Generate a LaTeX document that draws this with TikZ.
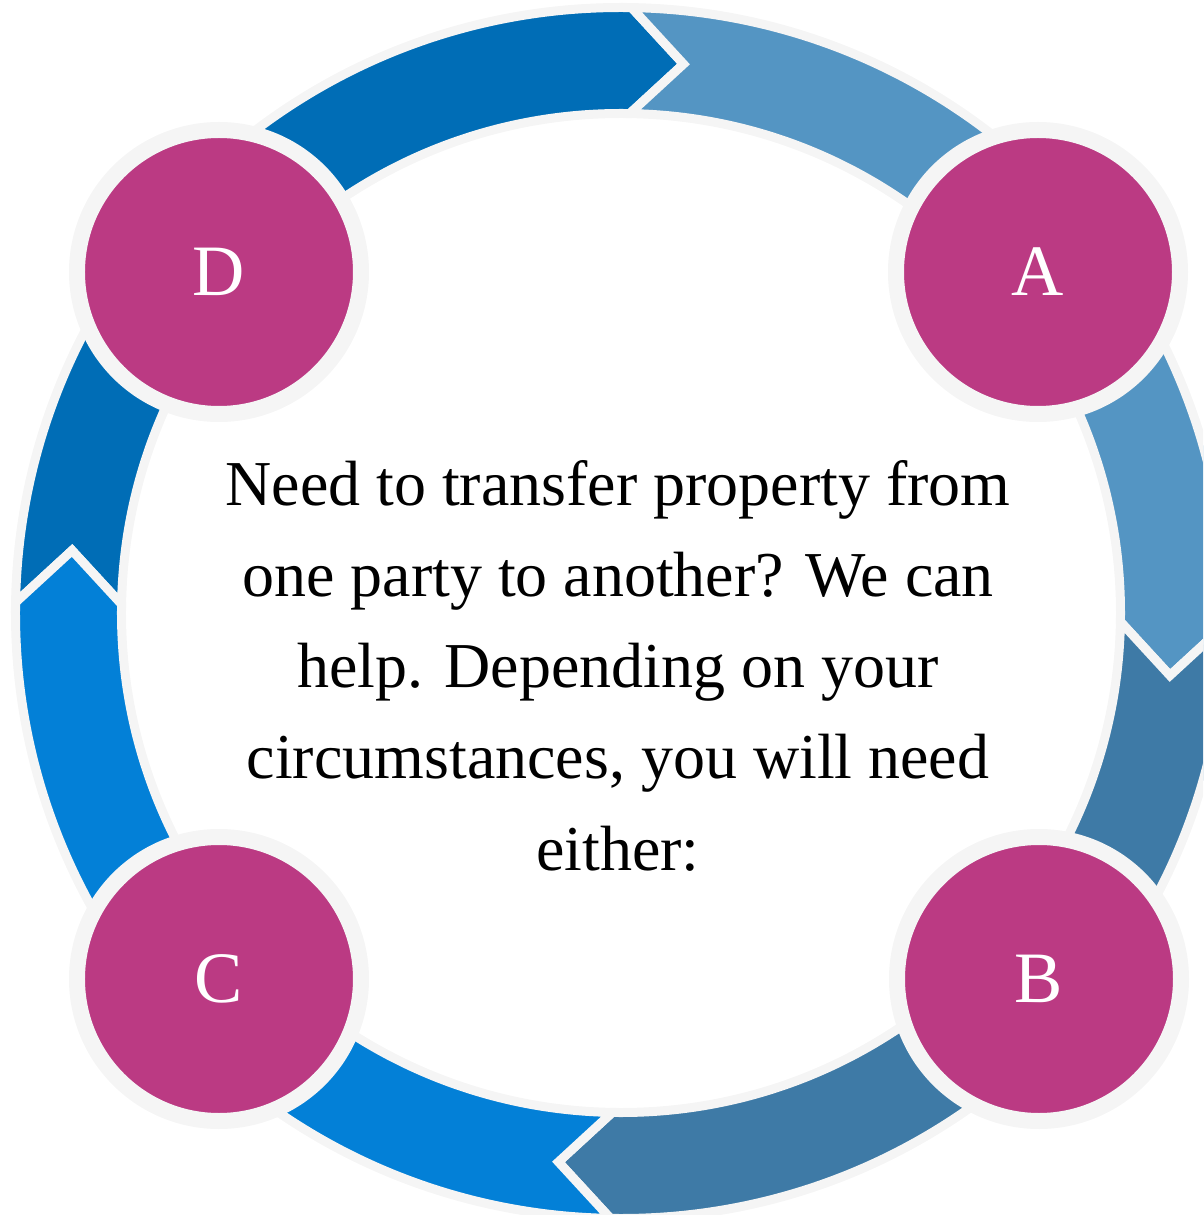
\documentclass[tikz,border=0pt]{standalone}
\usepackage{fontspec}
\setmainfont{Liberation Serif}
\definecolor{ringgray}{HTML}{F5F5F5}
\definecolor{arcdark}{HTML}{006DB6}
\definecolor{arclight}{HTML}{5495C3}
\definecolor{arcsteel}{HTML}{3E7AA6}
\definecolor{arcbright}{HTML}{0380D7}
\definecolor{badgepink}{HTML}{BB3A83}

\begin{document}
\begin{tikzpicture}[
    segment/.style={draw=ringgray, line width=0.9mm},
    badge/.style={circle, draw=ringgray, line width=1.6mm, fill=badgepink, text=white,
        minimum size=28.4mm, inner sep=0pt, font=\fontsize{20.6}{24}\selectfont},
    blurb/.style={align=center, anchor=base, inner sep=0pt, font=\fontsize{18.2}{25.9}\selectfont}
]
    % page size
    \useasboundingbox (-6.21, -6.02) rectangle (5.82, 6.13);
    \clip (-6.21, -6.02) rectangle (5.82, 6.13);

    % ring of four arrows
    \draw[segment, fill=arcdark] (179:6.055) arc[start angle=179, end angle=89, radius=6.055] -- (83.5:5.525) -- (89:4.995) arc[start angle=89, end angle=179, radius=4.995] -- (173.5:5.525) -- cycle;
    \draw[segment, fill=arclight] (89:6.055) arc[start angle=89, end angle=-1, radius=6.055] -- (-6.5:5.525) -- (-1:4.995) arc[start angle=-1, end angle=89, radius=4.995] -- (83.5:5.525) -- cycle;
    \draw[segment, fill=arcsteel] (-1:6.055) arc[start angle=-1, end angle=-91, radius=6.055] -- (-96.5:5.525) -- (-91:4.995) arc[start angle=-91, end angle=-1, radius=4.995] -- (-6.5:5.525) -- cycle;
    \draw[segment, fill=arcbright] (-91:6.055) arc[start angle=-91, end angle=-181, radius=6.055] -- (-186.5:5.525) -- (-181:4.995) arc[start angle=-181, end angle=-91, radius=4.995] -- (-96.5:5.525) -- cycle;

    % the four steps
    \node[badge] (a) at (4.17, 3.41) {A};
    \node[badge] (b) at (4.18, -3.66) {B};
    \node[badge] (c) at (-4.02, -3.66) {C};
    \node[badge] (d) at (-4.02, 3.41) {D};

    % text in the middle
    \node[blurb] (intro) at (-0.03, -2.57) {Need to transfer property from\\ one party to another? We can\\ help. Depending on your\\ circumstances, you will need\\ either:};
\end{tikzpicture}
\end{document}
